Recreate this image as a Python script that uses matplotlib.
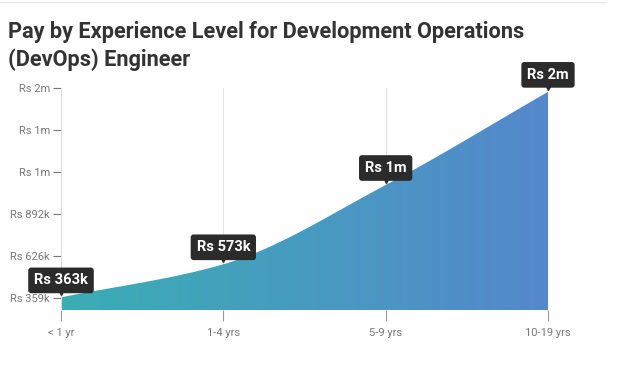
import matplotlib.pyplot as plt
import numpy as np
from matplotlib.colors import LinearSegmentedColormap
from matplotlib.lines import Line2D
from matplotlib.transforms import offset_copy

plt.rcParams["font.family"] = ["Roboto", "DejaVu Sans"]

# Data (values in thousands of Rs)
categories = ["< 1 yr", "1-4 yrs", "5-9 yrs", "10-19 yrs"]
pay = [363, 573, 1076, 1667]
pay_labels = ["Rs 363k", "Rs 573k", "Rs 1m", "Rs 2m"]
ytick_values = [359, 625.5, 892, 1158.5, 1425, 1691.5]
ytick_labels = ["Rs 359k", "Rs 626k", "Rs 892k", "Rs 1m", "Rs 1m", "Rs 2m"]

TEAL = "#3aaeb4"
BLUE = "#5588cc"
DARK = "#2b2b2b"
GREY = "#777777"


def monotone_curve(x, y, n=200):
    """Fritsch-Carlson monotone cubic, like d3.curveMonotoneX."""
    x = np.asarray(x, float)
    y = np.asarray(y, float)
    h = np.diff(x)
    s = np.diff(y) / h
    m = np.zeros_like(y)
    m[0], m[-1] = s[0], s[-1]
    for i in range(1, len(y) - 1):
        if s[i - 1] * s[i] <= 0:
            m[i] = 0
        else:
            m[i] = 2 / (1 / s[i - 1] + 1 / s[i])
    xs, ys = [], []
    for i in range(len(h)):
        t = np.linspace(0, 1, n)
        h00 = 2 * t**3 - 3 * t**2 + 1
        h10 = t**3 - 2 * t**2 + t
        h01 = -2 * t**3 + 3 * t**2
        h11 = t**3 - t**2
        xs.append(x[i] + t * h[i])
        ys.append(h00 * y[i] + h10 * h[i] * m[i] + h01 * y[i + 1] + h11 * h[i] * m[i + 1])
    return np.concatenate(xs), np.concatenate(ys)


fig = plt.figure(figsize=(6.24, 3.73), dpi=100)
ax = fig.add_axes([61 / 624, 1 - 310 / 373, (548 - 61) / 624, (310 - 88) / 373])

x = np.arange(len(categories))
ymin, ymax = 283, 1691.5
ax.set_xlim(0, 3)
ax.set_ylim(ymin, ymax)

# vertical grid lines
for xi in x[1:]:
    ax.axvline(xi, color="#e3e3e3", lw=0.8, zorder=0)

cx, cy = monotone_curve(x, pay)
poly = ax.fill_between(cx, cy, ymin, color="none", lw=0)
grad = np.linspace(0, 1, 256).reshape(1, -1)
cmap = LinearSegmentedColormap.from_list("g", [TEAL, BLUE])
img = ax.imshow(grad, cmap=cmap, aspect="auto", extent=[0, 3, ymin, ymax],
                origin="lower", zorder=1)
path = poly.get_paths()[0]
img.set_clip_path(path, transform=ax.transData)

# axes styling
for side in ["top", "right"]:
    ax.spines[side].set_visible(False)
ax.spines["left"].set_color("#dddddd")
ax.spines["bottom"].set_visible(False)
ax.set_yticks(ytick_values)
ax.set_yticklabels(ytick_labels)
ax.set_xticks(x)
ax.set_xticklabels(categories)
ax.tick_params(axis="y", length=6, width=0.8, color=GREY, labelcolor=GREY,
               labelsize=8, pad=2)
ax.tick_params(axis="x", length=8, width=0.8, color="#999999", labelcolor=GREY,
               labelsize=8, pad=5)

# tooltips
tri = offset_copy(ax.transData, fig=fig, x=0, y=5, units="dots")
for xi, v, lab in zip(x, pay, pay_labels):
    ax.annotate(lab, xy=(xi, v), xytext=(0, 17), textcoords="offset pixels",
                ha="center", va="center", color="white", fontsize=10.5,
                fontweight="bold", zorder=5, annotation_clip=False,
                bbox=dict(boxstyle="round,pad=0.4,rounding_size=0.2",
                          fc=DARK, ec="none"))
    ax.plot(xi, v, marker="v", ms=5, color=DARK, transform=tri,
            clip_on=False, zorder=5)

# header
fig.add_artist(Line2D([0, 605 / 624], [1 - 2 / 373] * 2, color="#e6e6e6", lw=1))
fig.text(8 / 624, 1 - 21 / 373,
         "Pay by Experience Level for Development Operations\n(DevOps) Engineer",
         ha="left", va="top", fontsize=15.7, fontweight="bold", color="#333333",
         linespacing=1.3)

fig.savefig("out.png", dpi=100)
